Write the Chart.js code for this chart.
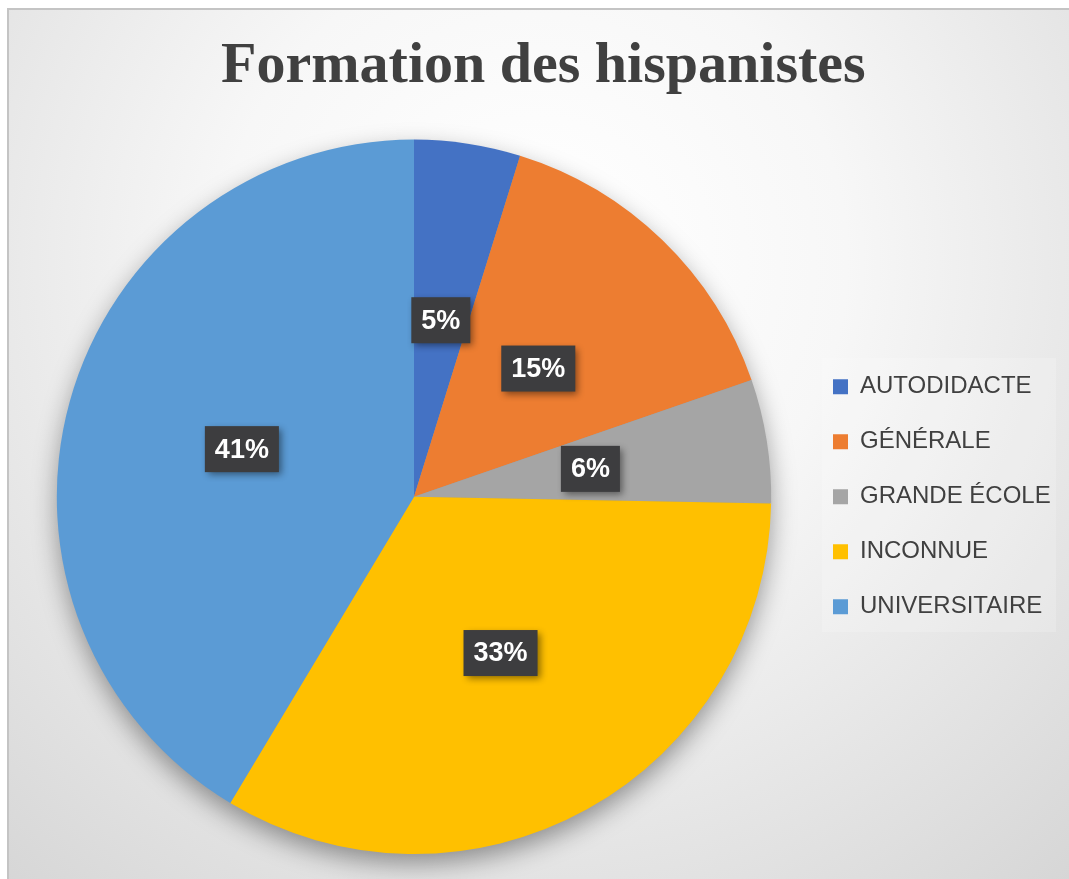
<!DOCTYPE html>
<html>
<head>
<meta charset="utf-8">
<script src="https://cdn.jsdelivr.net/npm/chart.js@4/dist/chart.umd.min.js"></script>
<style>
  html, body { margin: 0; padding: 0; background: #ffffff; }
  #wrap { position: absolute; left: 0; top: 0; width: 1069px; height: 879px; }
</style>
</head>
<body>
<div id="wrap"><canvas id="c"></canvas></div>
<script>
const titleText = 'Formation des hispanistes';
const categories = ['AUTODIDACTE', 'GÉNÉRALE', 'GRANDE ÉCOLE', 'INCONNUE', 'UNIVERSITAIRE'];
const shares = [4.8, 14.9, 5.6, 33.3, 41.4];
const sliceColors = ['#4472C4', '#ED7D31', '#A5A5A5', '#FFC000', '#5B9BD5'];

const W = 1069, H = 879;
const legendFont = 24, legendPad = 31, legendBox = 15;

// measure legend width to place the pie like the reference
const mctx = document.createElement('canvas').getContext('2d');
mctx.font = legendFont + 'px "Liberation Sans"';
let maxTW = 0;
categories.forEach(t => { maxTW = Math.max(maxTW, mctx.measureText(t).width); });
const legendW = legendPad + legendBox + legendFont / 2 + maxTW + 10;
const legendLeft = 802;
const rightPad = Math.max(0, W - legendLeft - legendW);

const bgPlugin = {
  id: 'bg',
  beforeDraw(chart) {
    const ctx = chart.ctx;
    ctx.save();
    ctx.fillStyle = '#ffffff';
    ctx.fillRect(0, 0, W, H);
    const g = ctx.createRadialGradient(534, 260, 40, 534, 260, 820);
    g.addColorStop(0, '#ffffff');
    g.addColorStop(0.35, '#f7f7f7');
    g.addColorStop(1, '#d6d6d6');
    ctx.fillStyle = g;
    ctx.fillRect(8, 9, W - 8, H - 9);
    // frame lines
    ctx.fillStyle = '#c4c4c4';
    ctx.fillRect(8, 8, W - 8, 2);
    ctx.fillRect(7, 8, 2, H - 8);
    // legend panel
    ctx.fillStyle = 'rgba(255,255,255,0.18)';
    ctx.fillRect(822, 358, 234, 274);
    ctx.restore();
  },
  beforeDatasetsDraw(chart) {
    const meta = chart.getDatasetMeta(0);
    if (!meta.data.length) return;
    const a = meta.data[0];
    const ctx = chart.ctx;
    ctx.save();
    ctx.shadowColor = 'rgba(0,0,0,0.4)';
    ctx.shadowBlur = 26;
    ctx.shadowOffsetX = 0;
    ctx.shadowOffsetY = 10;
    ctx.fillStyle = '#9a9a9a';
    ctx.beginPath();
    ctx.arc(a.x, a.y, a.outerRadius - 1, 0, Math.PI * 2);
    ctx.fill();
    ctx.restore();
  }
};

const labelPlugin = {
  id: 'pctLabels',
  afterDatasetsDraw(chart) {
    const ctx = chart.ctx;
    const ds = chart.data.datasets[0];
    const total = ds.data.reduce((s, v) => s + v, 0);
    const meta = chart.getDatasetMeta(0);
    ctx.save();
    ctx.font = 'bold 27px "Liberation Sans"';
    ctx.textAlign = 'center';
    ctx.textBaseline = 'middle';
    meta.data.forEach((arc, i) => {
      const p = arc.tooltipPosition();
      const txt = Math.round(ds.data[i] / total * 100) + '%';
      const tw = ctx.measureText(txt).width;
      const bw = tw + 20, bh = 46;
      ctx.save();
      ctx.shadowColor = 'rgba(0,0,0,0.45)';
      ctx.shadowBlur = 7;
      ctx.shadowOffsetX = 3;
      ctx.shadowOffsetY = 3;
      ctx.fillStyle = '#3d3d3f';
      ctx.fillRect(p.x - bw / 2, p.y - bh / 2, bw, bh);
      ctx.restore();
      ctx.fillStyle = '#ffffff';
      ctx.fillText(txt, p.x, p.y + 1);
    });
    ctx.restore();
  }
};

new Chart(document.getElementById('c'), {
  type: 'pie',
  data: {
    labels: categories,
    datasets: [{
      data: shares,
      backgroundColor: sliceColors,
      borderWidth: 0,
      hoverOffset: 0,
      hoverBorderWidth: 0,
      offset: 0
    }]
  },
  options: {
    responsive: true,
    maintainAspectRatio: false,
    animation: false,
    events: [],
    layout: { padding: { left: 26, right: rightPad, top: 10, bottom: 25 } },
    plugins: {
      title: {
        display: true,
        text: titleText,
        color: '#404040',
        font: { family: '"Liberation Serif", "DejaVu Serif", serif', size: 58, weight: 'bold' },
        padding: { top: 22, bottom: 38 }
      },
      legend: {
        display: true,
        position: 'right',
        fullSize: false,
        align: 'center',
        labels: {
          color: '#404040',
          font: { family: '"Liberation Sans"', size: legendFont },
          boxWidth: legendBox,
          boxHeight: legendBox,
          padding: legendPad
        }
      },
      tooltip: { enabled: false }
    }
  },
  plugins: [bgPlugin, labelPlugin]
});
</script>
</body>
</html>
